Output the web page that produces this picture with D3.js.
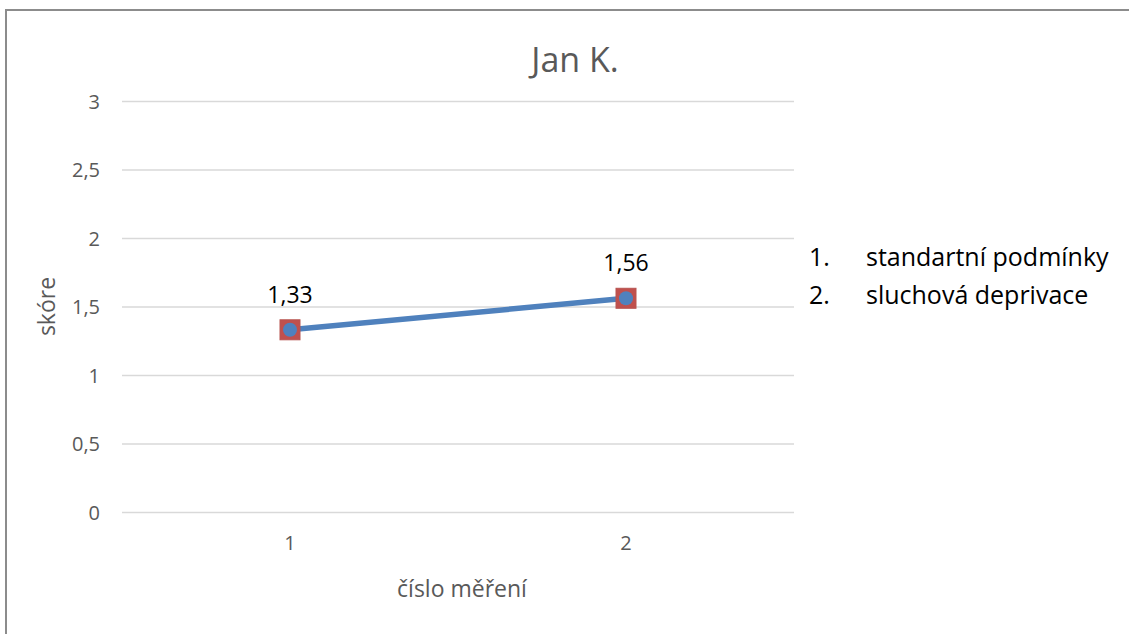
<!DOCTYPE html>
<html>
<head>
<meta charset="utf-8">
<script src="https://cdn.jsdelivr.net/npm/d3@7"></script>
<style>
  html, body { margin: 0; padding: 0; background: #fff; }
  svg { display: block; font-family: "Open Sans", "Noto Sans", sans-serif; }
</style>
</head>
<body>
<svg id="chart" width="1129" height="634"></svg>
<script>
// Measurement numbers and scores
const categories = ["1", "2"];
const scores = [1.33, 1.56];
const scoreLabels = ["1,33", "1,56"];
const yTicks = [0, 0.5, 1, 1.5, 2, 2.5, 3];
const legendItems = ["standartní podmínky", "sluchová deprivace"];

const title = "Jan K.";
const xTitle = "číslo měření";
const yTitle = "skóre";

const svg = d3.select("#chart");
const W = 1129, H = 634;
const plot = { left: 122, right: 794, top: 101, bottom: 512 };

const fmt = d => String(d).replace(".", ",");

// Frame of the chart area
svg.append("rect")
  .attr("x", 6).attr("y", 10)
  .attr("width", W + 10).attr("height", H + 10)
  .attr("fill", "#fff").attr("stroke", "#8c8c8c").attr("stroke-width", 2);

const x = d3.scaleBand().domain(categories).range([plot.left, plot.right]);
const y = d3.scaleLinear().domain([0, 3]).range([plot.bottom, plot.top]);

// Horizontal gridlines and y tick labels
const yAxis = d3.axisLeft(y).tickValues(yTicks).tickFormat(fmt)
  .tickSize(-(plot.right - plot.left)).tickPadding(22);
const gy = svg.append("g").attr("transform", `translate(${plot.left},0)`).call(yAxis);
gy.select(".domain").remove();
gy.selectAll(".tick line").attr("stroke", "#d9d9d9").attr("stroke-width", 1.3);
gy.selectAll(".tick text").attr("fill", "#595959").attr("dy", "0.36em")
  .style("font-size", "20px").style("font-family", "'Open Sans', sans-serif");

// X tick labels
const xAxis = d3.axisBottom(x).tickSize(0).tickPadding(0);
const gx = svg.append("g").attr("transform", `translate(0,${plot.bottom})`).call(xAxis);
gx.select(".domain").remove();
gx.selectAll(".tick text").attr("fill", "#595959").attr("dy", null).attr("y", 38)
  .style("font-size", "20px").style("font-family", "'Open Sans', sans-serif");

// Title
svg.append("text").attr("x", 575).attr("y", 72).attr("text-anchor", "middle")
  .attr("fill", "#595959").style("font-size", "34px").text(title);

// Axis titles
svg.append("text").attr("x", 462).attr("y", 597).attr("text-anchor", "middle")
  .attr("fill", "#595959").style("font-size", "23px").text(xTitle);
svg.append("text")
  .attr("transform", `translate(55,${(plot.top + plot.bottom) / 2}) rotate(-90)`)
  .attr("text-anchor", "middle").attr("fill", "#595959").style("font-size", "23px")
  .text(yTitle);

// Series line
const cx = d => x(d) + x.bandwidth() / 2;
const pts = categories.map((c, i) => [cx(c), y(scores[i])]);
svg.append("path").attr("d", d3.line()(pts))
  .attr("fill", "none").attr("stroke", "#4f81bd").attr("stroke-width", 5.5);

// Square markers with circular markers on top
svg.selectAll("rect.sq").data(pts).join("rect").attr("class", "sq")
  .attr("x", d => d[0] - 10).attr("y", d => d[1] - 10)
  .attr("width", 20).attr("height", 20)
  .attr("fill", "#c0504d").attr("stroke", "#b85450").attr("stroke-width", 1);
svg.selectAll("circle.pt").data(pts).join("circle").attr("class", "pt")
  .attr("cx", d => d[0]).attr("cy", d => d[1]).attr("r", 7)
  .attr("fill", "#4f81bd");

// Data labels
svg.selectAll("text.val").data(pts).join("text").attr("class", "val")
  .attr("x", d => d[0]).attr("y", d => d[1] - 27)
  .attr("text-anchor", "middle").attr("fill", "#000").style("font-size", "23px")
  .text((d, i) => scoreLabels[i]);

// Legend (numbered list)
const lg = svg.append("g");
legendItems.forEach((t, i) => {
  const ly = 266 + i * 38;
  lg.append("text").attr("x", 809).attr("y", ly).attr("fill", "#000")
    .style("font-size", "25px").text((i + 1) + ".");
  lg.append("text").attr("x", 866).attr("y", ly).attr("fill", "#000")
    .style("font-size", "25px").text(t);
});
</script>
</body>
</html>
